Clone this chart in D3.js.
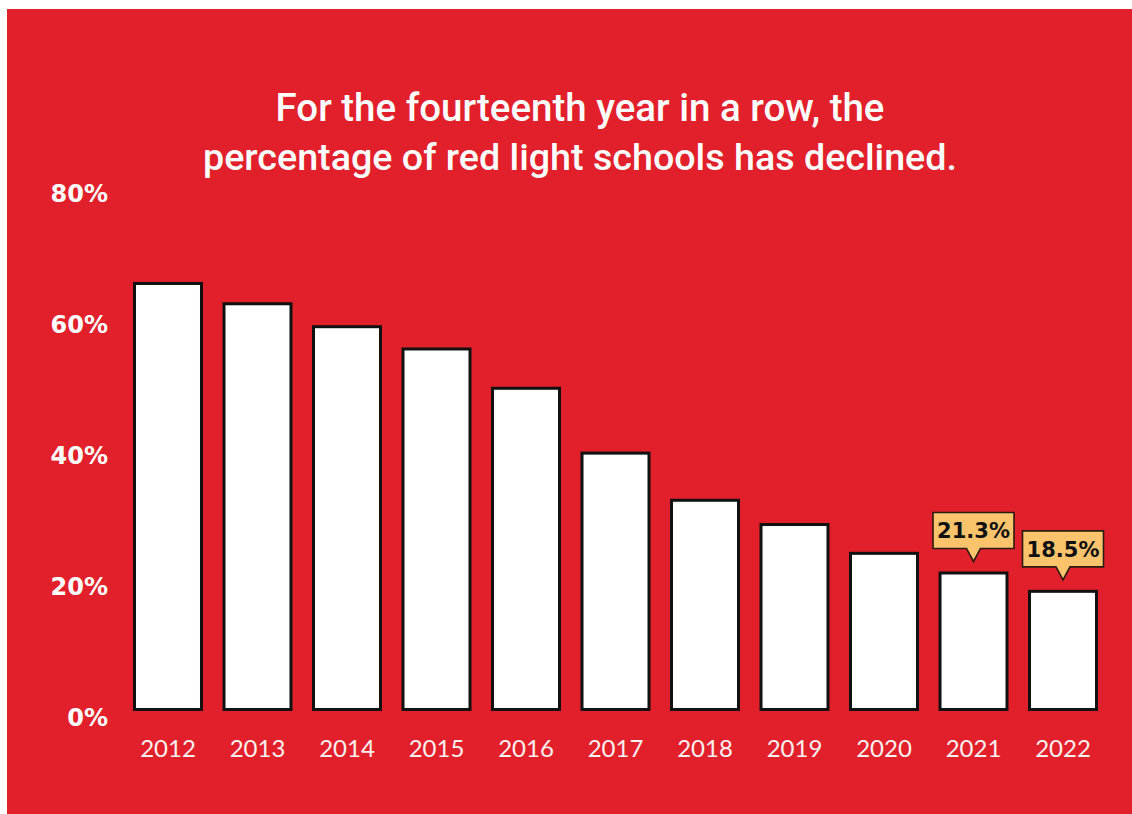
<!DOCTYPE html>
<html>
<head>
<meta charset="utf-8">
<script src="https://cdn.jsdelivr.net/npm/d3@7"></script>
<style>
  html, body { margin: 0; padding: 0; background: #ffffff; }
  svg { display: block; }
</style>
</head>
<body>
<svg id="chart" width="1132" height="814"></svg>
<script>
// ---- data ----
const years = ["2012", "2013", "2014", "2015", "2016", "2017", "2018", "2019", "2020", "2021", "2022"];
const values = [65.5, 62.4, 58.9, 55.5, 49.5, 39.6, 32.4, 28.7, 24.3, 21.3, 18.5];
const yTicks = [0, 20, 40, 60, 80];
const calloutYears = ["2021", "2022"];
const calloutLabels = ["21.3%", "18.5%"];
const titleLines = ["For the fourteenth year in a row, the", "percentage of red light schools has declined."];

// ---- setup ----
const svg = d3.select("#chart");
const W = 1132, H = 814;
const RED = "#e2202b";

svg.append("rect").attr("x", 7).attr("y", 9).attr("width", W - 7).attr("height", H - 9).attr("fill", RED);

const x = d3.scaleBand().domain(years).range([133, 1098]).paddingInner(0.218).paddingOuter(0);
const y = d3.scaleLinear().domain([0, 80]).range([711, 187]);

// title
const title = svg.append("g");
const titleY = [121, 170];
const titleW = [609, 754];
titleLines.forEach((t, i) => {
  const tx = title.append("text")
    .attr("x", 580).attr("y", titleY[i])
    .attr("text-anchor", "middle")
    .attr("fill", "#ffffff")
    .style("font-family", "Roboto, 'Open Sans', sans-serif")
    .style("font-weight", 500)
    .style("font-size", "34px")
    .text(t);
  const len = tx.node().getComputedTextLength();
  tx.style("font-size", (34 * titleW[i] / len).toFixed(2) + "px");
});

// y axis labels
const yAxis = d3.axisLeft(y).tickValues(yTicks).tickFormat(d => d + "%").tickSize(0).tickPadding(0);
const yg = svg.append("g").attr("transform", "translate(108,0)").call(yAxis);
yg.select(".domain").remove();
yg.selectAll("text")
  .attr("x", 0)
  .attr("dy", "14")
  .attr("fill", "#ffffff")
  .style("font-family", "'DejaVu Sans', sans-serif")
  .style("font-weight", "bold")
  .style("font-size", "24px");

// x axis labels
const xAxis = d3.axisBottom(x).tickSize(0).tickPadding(0);
const xg = svg.append("g").attr("transform", "translate(0,757)").call(xAxis);
xg.select(".domain").remove();
xg.selectAll("text")
  .attr("y", 0).attr("dy", 0)
  .attr("fill", "#fdf0f0")
  .style("font-family", "Lato, sans-serif")
  .style("font-weight", 400)
  .style("font-size", "24px");

// bars
svg.append("g").selectAll("rect")
  .data(years.map((yr, i) => ({ yr, v: values[i] })))
  .join("rect")
  .attr("x", d => x(d.yr) + 1.5)
  .attr("y", d => y(d.v) + 1.5)
  .attr("width", x.bandwidth() - 3)
  .attr("height", d => y(0) - y(d.v) - 3)
  .attr("fill", "#ffffff")
  .attr("stroke", "#111111")
  .attr("stroke-width", 3);

// callouts
const bw = 81, bh = 36, ph = 13, gap = 10, pw = 7;
calloutYears.forEach((yr, i) => {
  const v = values[years.indexOf(yr)];
  const cx = x(yr) + x.bandwidth() / 2;
  const tip = y(v) - gap;
  const bottom = tip - ph;
  const top = bottom - bh;
  const p = d3.path();
  p.moveTo(cx - bw / 2, top);
  p.lineTo(cx + bw / 2, top);
  p.lineTo(cx + bw / 2, bottom);
  p.lineTo(cx + pw, bottom);
  p.lineTo(cx, tip);
  p.lineTo(cx - pw, bottom);
  p.lineTo(cx - bw / 2, bottom);
  p.closePath();
  svg.append("path").attr("d", p.toString())
    .attr("fill", "#fac36c").attr("stroke", "#2a1c10").attr("stroke-width", 1.6);
  svg.append("text")
    .attr("x", cx).attr("y", top + 26)
    .attr("text-anchor", "middle")
    .attr("fill", "#111111")
    .style("font-family", "'DejaVu Sans', sans-serif")
    .style("font-weight", "bold")
    .style("font-size", "21px")
    .text(calloutLabels[i]);
});
</script>
</body>
</html>
